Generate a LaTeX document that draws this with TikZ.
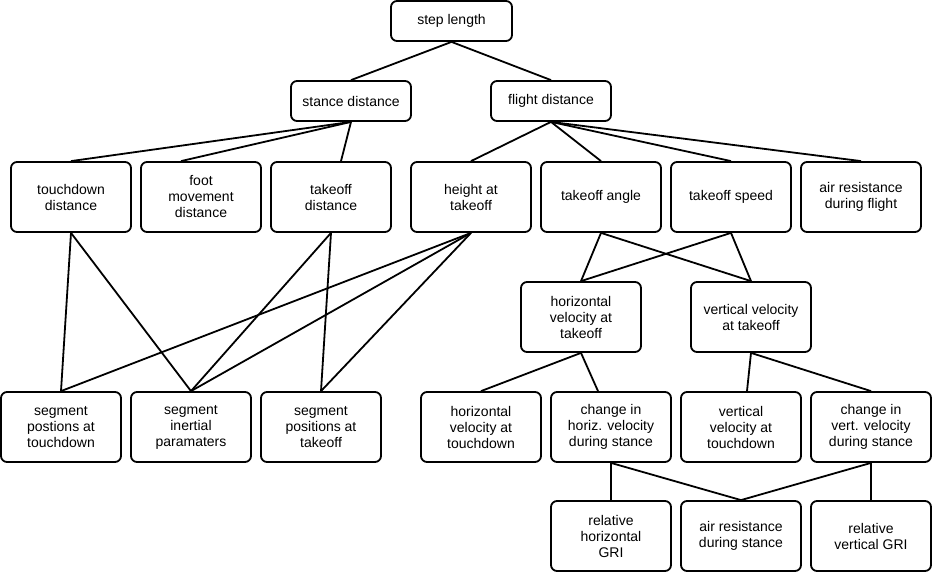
\documentclass[tikz,border=0pt]{standalone}
\usepackage{fontspec}
\setmainfont{Liberation Sans}
\usepackage{tikz}
\tikzset{
  factor/.style={draw, fill=white, rounded corners=6pt, line width=1.8pt,
    minimum width=120pt, minimum height=70pt, align=center, inner sep=2pt,
    font=\fontsize{14}{16}\selectfont},
  toplevel/.style={factor, minimum height=40pt},
  link/.style={line width=1.8pt},
}

\begin{document}
\begin{tikzpicture}[x=1pt, y=-1pt]
  \useasboundingbox (0,0) rectangle (932,572);

  \node[toplevel, minimum width=121pt] (step) at (451.5,21) {step length};
  \node[toplevel] (stance) at (351,101) {stance distance};
  \node[toplevel] (flight) at (551,101) {flight distance};

  \node[factor] (tdDist)   at (71,197)  {touchdown\\distance};
  \node[factor] (footMove) at (201,197) {foot\\movement\\distance};
  \node[factor] (toDist)   at (331,197) {takeoff\\distance};
  \node[factor] (height)   at (471,197) {height at\\takeoff};
  \node[factor] (toAngle)  at (601,197) {takeoff angle};
  \node[factor] (toSpeed)  at (731,197) {takeoff speed};
  \node[factor] (airFlight) at (861,197) {air resistance\\during flight};

  \node[factor] (hVelTo) at (581,317) {horizontal\\velocity at\\takeoff};
  \node[factor] (vVelTo) at (751,317) {vertical velocity\\at takeoff};

  \node[factor] (segTd)   at (61,427)  {segment\\postions at\\touchdown};
  \node[factor] (segIner) at (191,427) {segment\\inertial\\paramaters};
  \node[factor] (segTo)   at (321,427) {segment\\positions at\\takeoff};
  \node[factor] (hVelTd)  at (481,427) {horizontal\\velocity at\\touchdown};
  \node[factor] (dhVel)   at (611,427) {change in\\horiz. velocity\\during stance};
  \node[factor] (vVelTd)  at (741,427) {vertical\\velocity at\\touchdown};
  \node[factor] (dvVel)   at (871,427) {change in\\vert. velocity\\during stance};

  \node[factor] (relHGri)    at (611,536) {relative\\horizontal\\GRI};
  \node[factor] (airStance)  at (741,536) {air resistance\\during stance};
  \node[factor] (relVGri)    at (871,536) {relative\\vertical GRI};

  % step length
  \draw[link] (step.south) -- (stance.north);
  \draw[link] (step.south) -- (flight.north);

  % stance distance
  \draw[link] (stance.south) -- (tdDist.north);
  \draw[link] (stance.south) -- ([xshift=-20pt]footMove.north);
  \draw[link] (stance.south) -- ([xshift=10pt]toDist.north);

  % flight distance
  \foreach \n in {height, toAngle, toSpeed, airFlight}
    \draw[link] (flight.south) -- (\n.north);

  % body segments
  \draw[link] (tdDist.south) -- (segTd.north);
  \draw[link] (tdDist.south) -- (segIner.north);
  \draw[link] (toDist.south) -- (segIner.north);
  \draw[link] (toDist.south) -- (segTo.north);
  \foreach \n in {segTd, segIner, segTo}
    \draw[link] (height.south) -- (\n.north);

  % takeoff velocity
  \foreach \a in {toAngle, toSpeed} {
    \draw[link] (\a.south) -- (hVelTo.north);
    \draw[link] (\a.south) -- (vVelTo.north);
  }
  \draw[link] (hVelTo.south) -- (hVelTd.north);
  \draw[link] (hVelTo.south) -- ([xshift=-13pt]dhVel.north);
  \draw[link] (vVelTo.south) -- ([xshift=6pt]vVelTd.north);
  \draw[link] (vVelTo.south) -- (dvVel.north);

  % stance impulses
  \draw[link] (dhVel.south) -- (relHGri.north);
  \draw[link] (dhVel.south) -- (airStance.north);
  \draw[link] (dvVel.south) -- (airStance.north);
  \draw[link] (dvVel.south) -- (relVGri.north);
\end{tikzpicture}
\end{document}
